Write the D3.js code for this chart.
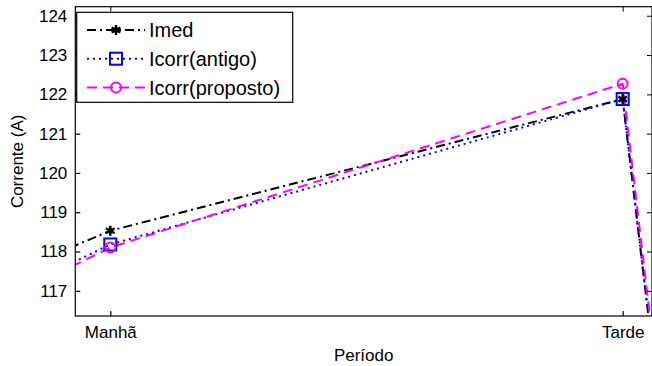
<!DOCTYPE html>
<html><head><meta charset="utf-8">
<script src="https://cdn.jsdelivr.net/npm/d3@7/dist/d3.min.js"></script>
<style>
html,body{margin:0;padding:0;background:#fff;}
svg text{font-family:"Liberation Sans",Arial,sans-serif;fill:#000;}
</style></head>
<body><svg id="c" width="652" height="366"></svg>
<script>
// ---- data ----
const xPos = [0, 1, 2, 3];               // category positions (only 1 and 2 fall inside the view)
const xTickPos = [1, 2];
const xTickLabels = ["Manhã", "Tarde"];
const yTicks = [117, 118, 119, 120, 121, 122, 123, 124];
const imed = [113.0, 118.53, 121.88, 12.0];
const icorrAntigo = [111.9, 118.18, 121.88, 12.0];
const icorrProposto = [111.7, 118.10, 122.27, 11.0];
const seriesNames = ["Imed", "Icorr(antigo)", "Icorr(proposto)"];

// ---- layout ----
const L = 75.3, R = 652, T = 6.7, B = 316;
const svg = d3.select("#c");
const x = d3.scaleLinear().domain([0.9317, 2.0572]).range([L, R]);
const y = d3.scaleLinear().domain([116.36, 124.23]).range([B, T]);

svg.append("defs").append("clipPath").attr("id", "clip")
  .append("rect").attr("x", L).attr("y", T).attr("width", R - L).attr("height", B - T);

const series = [
  {name: seriesNames[0], vals: imed, color: "#000000", dash: "9,4,2,4", marker: "star"},
  {name: seriesNames[1], vals: icorrAntigo, color: "#0000ff", dash: "2,4", marker: "square"},
  {name: seriesNames[2], vals: icorrProposto, color: "#ff00ff", dash: "10,6", marker: "circle"}
];

const line = d3.line().x((d, i) => x(xPos[i])).y(d => y(d));
const plot = svg.append("g").attr("clip-path", "url(#clip)");

function drawMarker(g, type, cx, cy, color) {
  if (type === "square") {
    g.append("rect").attr("x", cx - 6).attr("y", cy - 6).attr("width", 12).attr("height", 12)
      .attr("fill", "none").attr("stroke", color).attr("stroke-width", 2);
  } else if (type === "circle") {
    g.append("circle").attr("cx", cx).attr("cy", cy).attr("r", 5)
      .attr("fill", "none").attr("stroke", color).attr("stroke-width", 2);
  } else {
    g.append("path").attr("d", d3.symbol().type(d3.symbolAsterisk).size(70)())
      .attr("transform", `translate(${cx},${cy})`)
      .attr("stroke", color).attr("stroke-width", 2.5).attr("fill", "none");
    g.append("circle").attr("cx", cx).attr("cy", cy).attr("r", 2.5).attr("fill", color);
  }
}

series.forEach(s => {
  plot.append("path").datum(s.vals).attr("d", line)
    .attr("fill", "none").attr("stroke", s.color).attr("stroke-width", 2)
    .attr("stroke-dasharray", s.dash);
});
series.forEach(s => {
  s.vals.forEach((v, i) => drawMarker(plot, s.marker, x(xPos[i]), y(v), s.color));
});

// ---- axes box ----
const axes = svg.append("g").attr("stroke", "#000").attr("stroke-width", 1.2).attr("fill", "none");
axes.append("rect").attr("x", L).attr("y", T).attr("width", R - L).attr("height", B - T);

// y ticks (inward, both sides)
const yAxisL = d3.axisLeft(y).tickValues(yTicks).tickSize(-5).tickPadding(8).tickFormat(d3.format("d"));
const gy = svg.append("g").attr("transform", `translate(${L},0)`).call(yAxisL);
gy.select(".domain").remove();
gy.selectAll("text").attr("font-size", 17).attr("font-family", "Liberation Sans, Arial, sans-serif");
gy.selectAll("line").attr("stroke-width", 1.2);
const yAxisR = d3.axisRight(y).tickValues(yTicks).tickSize(-5).tickFormat("");
const gyr = svg.append("g").attr("transform", `translate(${R},0)`).call(yAxisR);
gyr.select(".domain").remove();

// x ticks (inward, top and bottom)
const xAxisB = d3.axisBottom(x).tickValues(xTickPos).tickSize(-5).tickPadding(10)
  .tickFormat((d, i) => xTickLabels[i]);
const gx = svg.append("g").attr("transform", `translate(0,${B})`).call(xAxisB);
gx.select(".domain").remove();
gx.selectAll("text").attr("font-size", 17).attr("font-family", "Liberation Sans, Arial, sans-serif");
gx.selectAll("line").attr("stroke-width", 1.2);
const xAxisT = d3.axisTop(x).tickValues(xTickPos).tickSize(-5).tickFormat("");
const gxt = svg.append("g").attr("transform", `translate(0,${T})`).call(xAxisT);
gxt.select(".domain").remove();

// axis titles
svg.append("text").attr("x", (L + R) / 2).attr("y", 361).attr("text-anchor", "middle")
  .attr("font-size", 17).text("Período");
svg.append("text").attr("transform", `translate(23,${(T + B) / 2}) rotate(-90)`)
  .attr("text-anchor", "middle").attr("font-size", 17).text("Corrente (A)");

// ---- legend ----
const lg = svg.append("g");
lg.append("rect").attr("x", 76.7).attr("y", 12.3).attr("width", 216).attr("height", 90)
  .attr("fill", "#fff").attr("stroke", "#000").attr("stroke-width", 1.2);
series.forEach((s, i) => {
  const ly = 30 + i * 28.7;
  lg.append("line").attr("x1", 87).attr("x2", 145).attr("y1", ly).attr("y2", ly)
    .attr("stroke", s.color).attr("stroke-width", 2).attr("stroke-dasharray", s.dash);
  drawMarker(lg, s.marker, 116, ly, s.color);
  lg.append("text").attr("x", 149).attr("y", ly).attr("dy", "0.36em")
    .attr("font-size", 20).text(s.name);
});
</script></body></html>
